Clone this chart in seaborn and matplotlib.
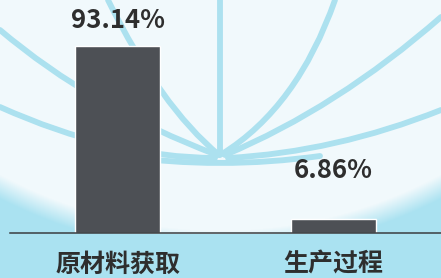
import matplotlib
matplotlib.use("Agg")
import matplotlib.pyplot as plt
import matplotlib.patches as mpatches
from matplotlib.path import Path
import numpy as np
import pandas as pd
import seaborn as sns

# chart data
categories = ["原材料获取", "生产过程"]
values = [93.14, 6.86]
value_labels = ["93.14%", "6.86%"]

sns.set_style("white")
plt.rcParams["font.family"] = ["Noto Sans CJK SC", "DejaVu Sans"]

df = pd.DataFrame({"stage": categories, "share": values})

fig = plt.figure(figsize=(4.41, 2.78), dpi=100)

# background: light page, blue lower rim, watermark arcs
bg = fig.add_axes([0, 0, 1, 1], zorder=0)
W, H = 441, 278
xx, yy = np.meshgrid(np.arange(W), np.arange(H))
d = np.sqrt(((xx - 220) / 0.93) ** 2 + (yy + 300) ** 2)
t = np.clip((d - 530) / 22, 0, 1)
t[yy > 233] = 1
light = np.array([241, 249, 252]) / 255
blue = np.array([170, 226, 241]) / 255
img = light[None, None, :] * (1 - t[..., None]) + blue[None, None, :] * t[..., None]
bg.imshow(img, extent=(0, W, H, 0), aspect="auto", interpolation="bilinear")

arc_color = "#acE1ef"
# start, point passed halfway, end
arcs = [
    [(220, 0), (220, 78), (220, 155)],
    [(108, 0), (162, 92), (219, 155)],
    [(0, 30), (100, 100), (217, 155)],
    [(0, 107), (110, 145), (215, 158)],
    [(335, 0), (288, 92), (222, 154)],
    [(441, 17), (335, 97), (225, 155)],
    [(441, 110), (335, 143), (228, 158)],
    [(120, 156), (220, 163), (320, 156)],
]
for p0, m, p2 in arcs:
    c = (2 * m[0] - 0.5 * (p0[0] + p2[0]), 2 * m[1] - 0.5 * (p0[1] + p2[1]))
    path = Path([p0, c, p2], [Path.MOVETO, Path.CURVE3, Path.CURVE3])
    bg.add_patch(mpatches.PathPatch(path, fill=False, lw=4.2, color=arc_color,
                                    capstyle="round"))
bg.set_xlim(0, W)
bg.set_ylim(H, 0)
bg.axis("off")

# main bar chart
ax = fig.add_axes([10 / 441, 45 / 278, 431 / 441, 233 / 278], zorder=1)
ax.set_facecolor("none")
sns.barplot(data=df, x="stage", y="share", color="#4d5055", saturation=1,
            width=0.394, ax=ax)
ax.set_xlim(-0.5, 1.5)
ax.set_ylim(0, 116)

offsets = [12, 35]
for i, (v, lab) in enumerate(zip(values, value_labels)):
    ax.annotate(lab, (i, v), xytext=(0, offsets[i]), textcoords="offset pixels",
                ha="center", va="bottom", fontsize=18.5, fontweight="bold",
                color="#2e2e2e")

for s in ["top", "right", "left"]:
    ax.spines[s].set_visible(False)
ax.spines["bottom"].set_color("#3a3d40")
ax.spines["bottom"].set_linewidth(1.1)
ax.set_yticks([])
ax.set_xlabel("")
ax.set_ylabel("")
ax.tick_params(axis="x", length=0, pad=14)
for lbl in ax.get_xticklabels():
    lbl.set_fontsize(18)
    lbl.set_fontweight("bold")
    lbl.set_color("#2e2e2e")

fig.savefig("out.png", dpi=100)
